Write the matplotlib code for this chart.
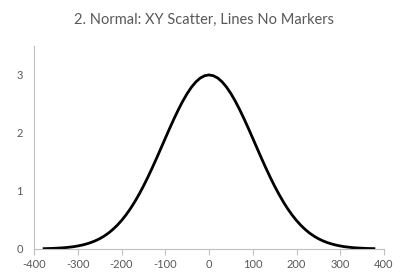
import numpy as np
import matplotlib
matplotlib.use('Agg')
import matplotlib.pyplot as plt

# values (right half; curve is symmetric about 0)
x_half = [0, 10, 20, 30, 40, 50, 60, 70, 80, 90,
          100, 110, 120, 130, 140, 150, 160, 170, 180, 190,
          200, 210, 220, 230, 240, 250, 260, 270, 280, 290,
          300, 310, 320, 330, 340, 350, 360, 370, 380]
y_half = [3.000, 2.986, 2.946, 2.880, 2.790, 2.678, 2.548, 2.402, 2.244, 2.078,
          1.906, 1.733, 1.561, 1.394, 1.233, 1.081, 0.940, 0.809, 0.690, 0.584,
          0.489, 0.406, 0.334, 0.272, 0.220, 0.176, 0.140, 0.110, 0.086, 0.066,
          0.051, 0.038, 0.029, 0.021, 0.016, 0.012, 0.008, 0.006, 0.004]
x_vals = [-x for x in x_half[:0:-1]] + x_half
y_vals = y_half[:0:-1] + y_half

x_ticks = [-400, -300, -200, -100, 0, 100, 200, 300, 400]
y_ticks = [0, 1, 2, 3]

plt.rcParams['font.family'] = ['Lato', 'DejaVu Sans']
grey = '#595959'
axis_col = '#bfbfbf'

fig = plt.figure(figsize=(4.08, 2.8), dpi=100)
ax = fig.add_axes([0.0833, 0.111, 0.858, 0.725])

ax.plot(x_vals, y_vals, color='black', linewidth=2.0,
        solid_joinstyle='round', solid_capstyle='butt')

ax.set_xlim(-400, 400)
ax.set_ylim(0, 3.5)
ax.set_xticks(x_ticks)
ax.set_yticks(y_ticks)
ax.set_xticklabels([str(t) for t in x_ticks])

for s in ['top', 'right']:
    ax.spines[s].set_visible(False)
for s in ['left', 'bottom']:
    ax.spines[s].set_color(axis_col)
    ax.spines[s].set_linewidth(0.8)

ax.tick_params(axis='x', colors=grey, labelsize=8, length=4, width=0.8,
               direction='out', color=axis_col, pad=3)
ax.tick_params(axis='y', colors=grey, labelsize=8, length=0, pad=8)

fig.suptitle('2. Normal: XY Scatter, Lines No Markers', x=0.5, y=0.955,
             fontsize=10.5, color=grey)

fig.savefig('out.png', dpi=100)
